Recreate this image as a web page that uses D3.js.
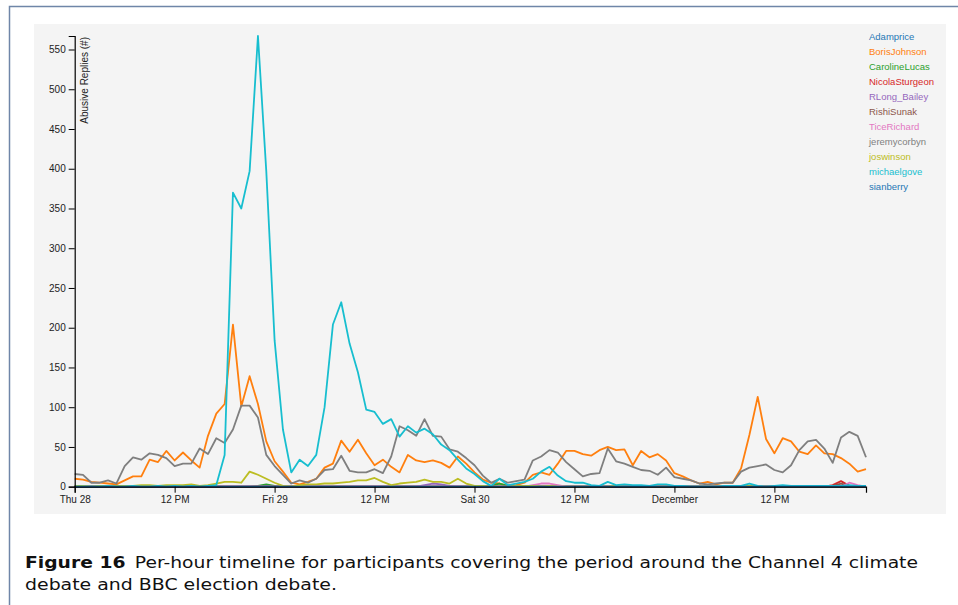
<!DOCTYPE html>
<html>
<head>
<meta charset="utf-8">
<script src="https://cdn.jsdelivr.net/npm/d3@7"></script>
<style>
  body { margin: 0; background: #fff; }
  svg { display: block; }
</style>
</head>
<body>
<script>
// hourly counts, Thu 28 Nov 00:00 -> Sun 1 Dec 23:00
const names = ["Adamprice", "BorisJohnson", "CarolineLucas", "NicolaSturgeon", "RLong_Bailey",
  "RishiSunak", "TiceRichard", "jeremycorbyn", "joswinson", "michaelgove", "sianberry"];

const adamprice = [0,0,0,0,0,0,0,0,0,0, 0,0,0,0,0,0,0,0,0,0, 0,0,0,1,0,0,0,0,0,0,
  0,0,0,0,0,0,0,0,0,0, 0,0,0,0,0,0,0,0,0,0, 0,0,0,0,0,0,0,0,0,0, 0,0,0,0,0,0,0,0,0,0,
  0,0,0,0,0,0,0,0,0,0, 0,0,0,0,0,0,0,0,0,0, 0,0,0,0,0,0];
const borisjohnson = [10,9,6,5,4,3,8,13,13,34, 31,45,33,43,33,24,64,92,104,204,
  101,139,104,57,32,19,5,3,6,10, 24,29,58,44,59,42,27,34,25,18, 40,33,31,33,30,24,38,29,18,9,
  5,4,1,2,5,15,18,15,29,45, 45,41,39,46,50,46,47,27,45,37, 41,33,17,13,8,4,6,3,5,5,
  23,65,113,60,42,61,57,44,41,52, 42,41,36,29,19,22];
const carolinelucas = [0,0,0,0,0,0,0,0,0,0, 0,0,0,0,2,0,0,0,0,0, 0,0,1,3,1,0,0,0,0,0,
  0,0,0,0,0,0,0,0,0,0, 0,0,0,0,0,0,0,0,0,0, 1,4,1,0,0,0,0,0,0,0, 0,0,0,0,0,0,0,0,0,0,
  0,0,0,0,0,0,0,0,0,0, 0,0,0,0,0,0,0,0,0,0, 0,0,0,0,0,0];
const nicolasturgeon = [0,0,0,0,0,0,0,0,0,0, 0,0,0,0,0,0,0,0,0,0, 0,0,0,0,0,0,0,0,0,0,
  0,0,0,0,0,0,0,0,0,0, 0,0,0,0,0,0,0,0,0,0, 0,0,0,0,0,0,0,0,0,0, 0,0,0,0,0,0,0,0,0,0,
  0,0,0,0,0,0,0,0,0,0, 0,0,0,0,0,0,0,0,0,0, 0,2,7,1,0,0];
const rlongbailey = [0,0,0,0,0,0,0,0,0,0, 0,0,0,0,0,0,0,0,0,0, 0,0,0,0,0,0,0,0,0,0,
  0,0,0,0,0,0,0,0,0,0, 0,0,2,4,3,1,0,0,0,0, 0,0,0,0,0,0,0,0,0,0, 0,0,0,0,0,0,0,0,0,0,
  0,0,0,0,0,0,0,0,0,0, 0,0,0,0,0,0,0,0,0,0, 0,0,0,0,0,0];
const rishisunak = [0,0,0,0,0,0,0,0,0,0, 0,0,0,0,0,0,0,0,0,0, 0,0,0,0,0,0,0,0,0,0,
  0,0,0,0,0,0,0,0,0,0, 0,0,0,0,0,0,0,0,0,0, 0,0,0,0,0,0,0,0,0,0, 0,0,0,0,0,0,0,0,0,0,
  0,0,0,0,0,0,0,0,0,0, 0,0,0,0,0,0,0,0,0,0, 0,1,4,1,0,0];
const ticerichard = [0,0,0,0,0,0,0,0,0,0, 0,0,0,0,0,0,0,0,0,0, 0,0,0,0,0,0,0,0,0,0,
  0,0,0,0,0,0,0,0,0,0, 0,0,0,0,0,0,0,0,0,0, 0,0,0,0,0,2,4,4,2,0, 0,0,0,0,0,0,0,0,0,0,
  0,0,0,0,0,0,0,0,0,0, 0,0,0,0,0,0,0,0,0,0, 0,0,0,5,2,0];
const jeremycorbyn = [16,15,5,5,8,4,26,37,34,42, 40,36,26,29,29,48,41,61,55,72,
  102,102,87,40,26,15,4,8,5,10, 21,22,39,20,18,18,22,17,38,76, 71,64,85,64,63,47,44,36,27,14,
  5,10,5,7,9,33,38,46,43,31, 22,13,16,17,48,32,29,25,21,20, 15,24,12,10,8,4,3,4,5,5,
  19,24,26,28,21,18,27,46,57,59, 48,30,62,69,64,37];
const joswinson = [1,1,0,1,0,1,1,1,2,2, 1,2,2,2,3,1,2,4,6,6, 5,19,15,10,5,1,0,2,3,3,
  4,4,5,6,8,8,11,6,2,4, 5,6,9,6,6,4,10,4,1,1, 0,0,0,1,1,1,0,1,0,0, 0,0,0,0,0,1,0,0,0,0,
  0,0,0,0,0,0,0,0,0,0, 0,1,0,0,0,0,0,0,0,0, 0,0,0,0,0,0];
const michaelgove = [0,0,0,0,1,0,0,1,0,0, 1,0,1,0,1,0,1,2,40,370,
  350,397,567,397,184,72,18,34,26,40, 100,204,232,180,144,97,94,79,85,63, 76,68,73,66,53,46,34,23,16,7,
  1,10,2,4,6,10,19,25,14,7, 5,5,2,1,6,2,3,2,2,1, 3,3,1,1,0,0,0,0,1,1,
  1,4,1,0,1,2,1,1,1,1, 1,1,1,2,1,1];
const sianberry = [0,0,0,0,0,0,0,0,0,0, 0,0,0,0,0,0,0,0,0,0, 0,0,0,0,0,0,0,0,0,0,
  0,0,0,0,0,0,0,0,0,0, 0,0,0,0,0,0,0,0,0,0, 0,0,0,0,0,0,0,0,0,0, 0,0,0,0,0,0,0,0,0,0,
  0,0,0,0,0,0,0,0,0,0, 0,0,0,0,0,0,0,0,0,0, 0,0,0,0,0,0];

const seriesValues = [adamprice, borisjohnson, carolinelucas, nicolasturgeon, rlongbailey,
  rishisunak, ticerichard, jeremycorbyn, joswinson, michaelgove, sianberry];

const startTime = new Date(2019, 10, 28, 0);

const W = 958, H = 605;
const svg = d3.select("body").append("svg").attr("width", W).attr("height", H);

// figure frame
svg.append("path")
  .attr("d", `M9.5,${H} L9.5,6.5 L${W},6.5`)
  .attr("fill", "none").attr("stroke", "#6f86a8").attr("stroke-width", 1.5);

// chart panel
svg.append("rect").attr("x", 34).attr("y", 24).attr("width", 912).attr("height", 490).attr("fill", "#f4f4f4");

const series = names.map((n, i) => ({
  name: n,
  values: seriesValues[i].map((v, h) => ({ t: d3.timeHour.offset(startTime, h), v: v }))
}));

const x = d3.scaleTime()
  .domain([startTime, d3.timeHour.offset(startTime, 95)])
  .range([74.7, 866]);
const y = d3.scaleLinear()
  .domain([0, d3.max(seriesValues, s => d3.max(s))])
  .range([486.7, 36]);

const color = d3.scaleOrdinal(d3.schemeCategory10);

const line = d3.line().x(d => x(d.t)).y(d => y(d.v));

svg.append("g").selectAll("path")
  .data(series)
  .enter()
  .append("path")
  .attr("d", d => line(d.values))
  .attr("fill", "none")
  .attr("stroke", d => color(d.name))
  .attr("stroke-width", 1.8)
  .attr("stroke-linejoin", "round");

const xAxis = svg.append("g")
  .attr("transform", `translate(0, ${y(0)})`)
  .call(d3.axisBottom(x).ticks(d3.timeHour.every(12)));

const yAxis = svg.append("g")
  .attr("transform", `translate(${x.range()[0]}, 0)`)
  .call(d3.axisLeft(y));

[xAxis, yAxis].forEach(a => {
  a.selectAll("text").style("font-family", "Liberation Sans, Arial, sans-serif").style("font-size", "10px").attr("fill", "#222");
  a.select(".domain").attr("stroke", "#000").attr("stroke-width", 1.2);
  a.selectAll(".tick line").attr("stroke", "#000");
});

yAxis.append("text")
  .attr("transform", "rotate(-90)")
  .attr("x", -37)
  .attr("y", 6)
  .attr("dy", "0.71em")
  .style("text-anchor", "end")
  .style("font-family", "Liberation Sans, Arial, sans-serif")
  .style("font-size", "10px")
  .attr("fill", "#222")
  .text("Abusive Replies (#)");

// legend
svg.append("g").selectAll("text")
  .data(names)
  .enter()
  .append("text")
  .attr("x", 869)
  .attr("y", (d, i) => 37 + i * 15)
  .attr("dy", "0.35em")
  .style("font-family", "Liberation Sans, Arial, sans-serif")
  .style("font-size", "9.5px")
  .attr("fill", d => color(d))
  .text(d => d);

// caption
const cap = svg.append("g").style("font-family", "'DejaVu Sans', sans-serif").style("font-size", "16.5px").attr("fill", "#111");
const l1 = cap.append("text").attr("x", 25).attr("y", 568)
  .attr("textLength", 893).attr("lengthAdjust", "spacingAndGlyphs");
l1.append("tspan").style("font-weight", "bold").text("Figure 16");
l1.append("tspan").text("\u2002Per-hour timeline for participants covering the period around the Channel 4 climate");
cap.append("text").attr("x", 25).attr("y", 590)
  .attr("textLength", 312).attr("lengthAdjust", "spacingAndGlyphs")
  .text("debate and BBC election debate.");
</script>
</body>
</html>
